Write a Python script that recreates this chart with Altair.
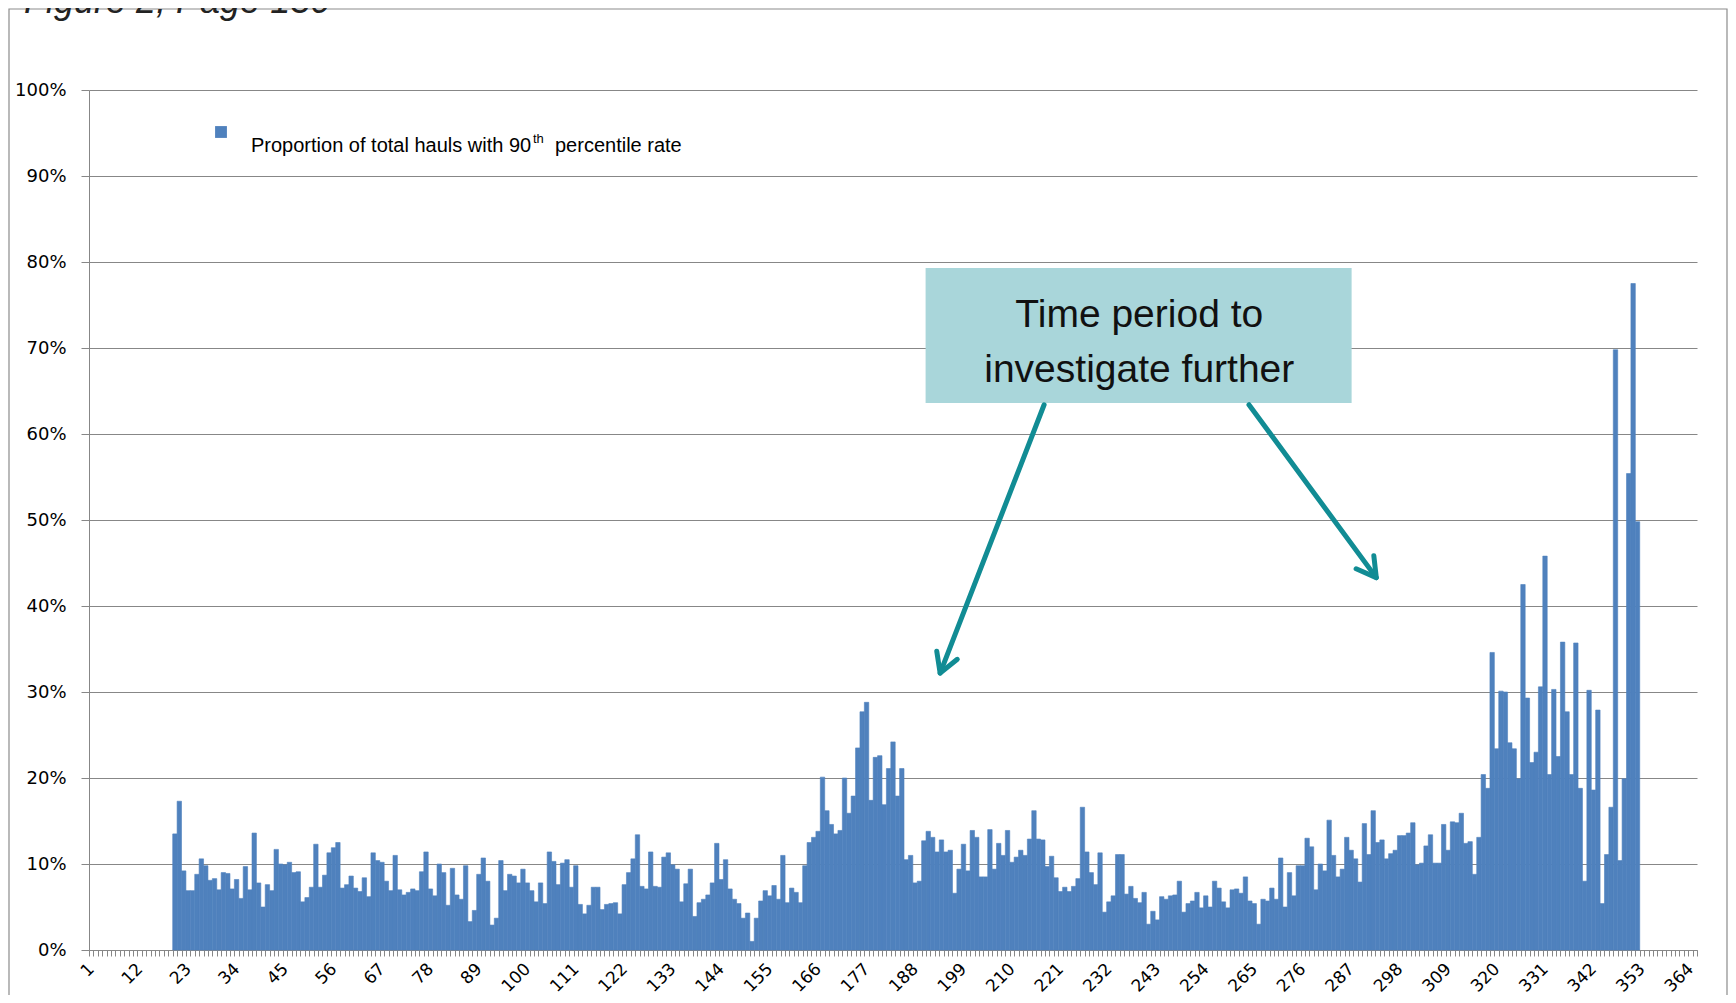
import altair as alt
import pandas as pd

# ---------------- data ----------------
FIRST_DAY = 20
proportion_pct = [
    # days 20-73
    13.5, 17.3, 9.2, 6.9, 6.9, 8.8, 10.6, 9.8, 8.1, 8.3, 7.0, 9.0, 8.9, 7.1, 8.2, 6.0, 9.7, 7.0,
    13.6, 7.8, 5.0, 7.6, 6.9, 11.7, 10.0, 9.9, 10.2, 9.0, 9.1, 5.6, 6.1, 7.3, 12.3, 7.3, 8.7, 11.3,
    11.9, 12.5, 7.2, 7.6, 8.6, 7.2, 6.8, 8.4, 6.2, 11.3, 10.4, 10.2, 8.0, 6.9, 11.0, 7.0, 6.4, 6.7,
    # days 74-129
    7.1, 6.9, 9.1, 11.4, 7.1, 6.3, 10.0, 9.0, 5.2, 9.5, 6.4, 5.9, 9.8, 3.3, 4.6, 8.8, 10.7, 8.0,
    2.9, 3.7, 10.4, 6.9, 8.8, 8.6, 7.8, 9.4, 7.8, 6.9, 5.6, 7.8, 5.4, 11.4, 10.3, 7.6, 10.1, 10.5,
    7.3, 9.8, 5.3, 4.2, 5.2, 7.3, 7.3, 4.7, 5.3, 5.4, 5.5, 4.2, 7.6, 9.0, 10.6, 13.4, 7.4, 7.1,
    11.4, 7.4,
    # days 130-184
    7.3, 10.8, 11.3, 9.9, 9.4, 5.6, 7.7, 9.4, 3.9, 5.5, 5.9, 6.4, 7.8, 12.4, 8.2, 10.5, 7.1, 5.9,
    5.4, 3.7, 4.3, 1.0, 3.7, 5.7, 6.9, 6.3, 7.5, 5.9, 11.0, 5.5, 7.2, 6.7, 5.5, 9.8, 12.5, 13.1,
    13.8, 20.1, 16.2, 14.6, 13.5, 13.9, 20.0, 15.9, 17.9, 23.5, 27.7, 28.8, 17.4, 22.4, 22.6, 16.9,
    21.1, 24.2, 17.9,
    # days 185-240
    21.1, 10.5, 11.0, 7.8, 8.0, 12.7, 13.8, 13.1, 11.4, 12.8, 11.4, 11.6, 6.6, 9.4, 12.3, 9.2,
    13.9, 13.1, 8.5, 8.5, 14.0, 9.4, 12.4, 11.0, 13.9, 10.2, 10.8, 11.6, 11.0, 12.9, 16.2, 12.9,
    12.8, 9.7, 10.9, 8.4, 6.8, 7.3, 6.8, 7.4, 8.3, 16.6, 11.4, 9.0, 7.6, 11.3, 4.4, 5.6, 6.3,
    11.1, 11.1, 6.5, 7.4, 6.0, 5.5, 6.7,
    # days 241-295
    3.0, 4.5, 3.5, 6.2, 5.9, 6.3, 6.4, 8.0, 4.4, 5.4, 5.7, 6.7, 4.9, 6.3, 5.0, 8.0, 7.2, 5.6,
    4.9, 7.0, 7.1, 6.6, 8.5, 5.7, 5.4, 3.0, 5.9, 5.7, 7.2, 5.9, 10.7, 5.0, 9.0, 6.3, 9.8, 9.8,
    13.0, 12.0, 7.0, 10.0, 9.2, 15.1, 11.0, 8.5, 9.4, 13.1, 11.6, 10.6, 7.9, 14.7, 11.1, 16.2,
    12.5, 12.8, 10.6,
    # days 296-352
    11.2, 11.6, 13.3, 13.3, 13.6, 14.8, 9.9, 10.1, 12.1, 13.4, 10.1, 10.1, 14.6, 11.6, 14.9, 14.8,
    15.9, 12.4, 12.6, 8.8, 13.1, 20.4, 18.8, 34.6, 23.4, 30.1, 30.0, 24.1, 23.4, 19.9, 42.5, 29.3,
    21.8, 23.0, 30.6, 45.8, 20.4, 30.3, 22.5, 35.8, 27.7, 20.4, 35.7, 18.8, 8.0, 30.2, 18.6, 27.9,
    5.4, 11.1, 16.6, 69.8, 10.4, 19.9, 55.4, 77.5, 49.8,
]
days = list(range(FIRST_DAY, FIRST_DAY + len(proportion_pct)))
n_categories = 365
label_days = list(range(1, 365, 11))          # 1, 12, 23, ... 364
y_ticks = list(range(0, 101, 10))             # 0% ... 100%
legend_parts = ["Proportion of total hauls with 90", "th", "percentile rate"]
callout_lines = ["Time period to", "investigate further"]
figure_caption = "Figure 2, Page 130"

# ---------------- layout / style ----------------
W, H = 1608, 860
BAR_COLOR = "#4f81bd"
GRID = "#878787"
TEAL = "#118c94"
SANS = "Liberation Sans, Arial, sans-serif"

bars_df = pd.DataFrame({"day": days, "pct": proportion_pct})
x_scale = alt.Scale(domain=[0.5, n_categories + 0.5], nice=False, zero=False)
y_scale = alt.Scale(domain=[0, 100], nice=False, zero=True)

tick_values = [i + 0.5 for i in range(0, n_categories + 1)]

bars = alt.Chart(bars_df).transform_calculate(
    x0="datum.day - 0.5", x1="datum.day + 0.5"
).mark_rect(color=BAR_COLOR, stroke=BAR_COLOR, strokeWidth=0.6).encode(
    x=alt.X("x0:Q", scale=x_scale, axis=alt.Axis(
        values=tick_values, labels=False, ticks=True, tickSize=6, tickColor=GRID,
        domainColor=GRID, grid=False, title=None, orient="bottom")),
    x2="x1:Q",
    y=alt.Y("pct:Q", scale=y_scale, axis=alt.Axis(
        values=y_ticks, labelExpr="datum.value + '%'", grid=True, gridColor=GRID,
        domainColor=GRID, tickColor=GRID, tickSize=8, labelPadding=15,
        labelFont="DejaVu Sans", labelFontSize=18, labelColor="#000000", title=None,
        orient="left")),
    y2=alt.datum(0),
)

label_axis = alt.Chart(pd.DataFrame({"day": label_days})).mark_point(opacity=0).encode(
    x=alt.X("day:Q", scale=x_scale, axis=alt.Axis(
        values=label_days, ticks=False, domain=False, grid=False, labelAngle=-45,
        labelAlign="right", labelBaseline="middle", labelPadding=16, labelFont="DejaVu Sans",
        labelFontSize=17, labelColor="#000000", labelOverlap=False, labelFlush=False,
        title=None, orient="bottom")),
    y=alt.value(0),
)

frame = alt.Chart(pd.DataFrame({"k": [0]})).mark_rect(
    filled=False, stroke="#8c8c8c", strokeWidth=1.2
).encode(x=alt.value(-80), x2=alt.value(W + 30), y=alt.value(-81), y2=alt.value(H + 80))

caption = alt.Chart(pd.DataFrame({"t": [figure_caption]})).mark_text(
    font=SANS, fontSize=36, fontStyle="italic", align="left", baseline="alphabetic",
    color="#222222"
).encode(x=alt.value(-65), y=alt.value(-77), text="t:N")

# callout (data coordinates)
box_df = pd.DataFrame({"x": [190.4], "x2": [287.1], "y": [79.3], "y2": [63.6]})
box = alt.Chart(box_df).mark_rect(color="#a9d6da").encode(
    x=alt.X("x:Q", scale=x_scale, axis=None), x2="x2:Q",
    y=alt.Y("y:Q", scale=y_scale, axis=None), y2="y2:Q",
)
text_df = pd.DataFrame({"x": [238.9, 238.9], "y": [72.4, 66.0], "t": callout_lines})
box_text = alt.Chart(text_df).mark_text(
    font=SANS, fontSize=39, align="center", baseline="alphabetic", color="#111111"
).encode(
    x=alt.X("x:Q", scale=x_scale, axis=None),
    y=alt.Y("y:Q", scale=y_scale, axis=None), text="t:N",
)
arrow_df = pd.DataFrame({
    "x": [217.3, 263.8], "y": [63.4, 63.4],
    "x2": [193.7, 292.7], "y2": [32.2, 43.3],
    "ang": [21.2, 323.6],
})
shafts = alt.Chart(arrow_df).mark_rule(color=TEAL, strokeWidth=5, strokeCap="round").encode(
    x=alt.X("x:Q", scale=x_scale, axis=None), x2="x2:Q",
    y=alt.Y("y:Q", scale=y_scale, axis=None), y2="y2:Q",
)
heads = alt.Chart(arrow_df).mark_point(
    shape="M -0.5 -0.866 L 0 0 L 0.5 -0.866", filled=False, size=1936,
    stroke=TEAL, strokeWidth=5, strokeCap="round", strokeJoin="round", opacity=1
).encode(
    x=alt.X("x2:Q", scale=x_scale, axis=None),
    y=alt.Y("y2:Q", scale=y_scale, axis=None),
    angle=alt.Angle("ang:Q", scale=None),
)

# legend (manual, inside plot)
legend_mark = alt.Chart(pd.DataFrame({"k": [0]})).mark_square(
    color=BAR_COLOR, size=140, opacity=1
).encode(x=alt.value(132), y=alt.value(42))
leg_df = pd.DataFrame({"t": legend_parts, "px": [162, 444, 466], "py": [62, 53, 62],
                       "fs": [20, 13, 20]})
legend_text = alt.Chart(leg_df).mark_text(
    font=SANS, align="left", baseline="alphabetic", color="#000000"
).encode(
    x=alt.X("px:Q", scale=None), y=alt.Y("py:Q", scale=None), text="t:N",
    size=alt.Size("fs:Q", scale=None, legend=None),
)

chart = alt.layer(
    frame, bars, label_axis, box, box_text, shafts, heads, legend_mark, legend_text, caption
).resolve_axis(x="independent", y="independent").properties(
    width=W, height=H,
    padding={"left": 81, "top": 82, "right": 31, "bottom": 45},
    autosize=alt.AutoSizeParams(type="none"),
    background="white",
).configure_view(stroke=None)

chart.save("out.html", embed_options={"renderer": "svg", "actions": False})
